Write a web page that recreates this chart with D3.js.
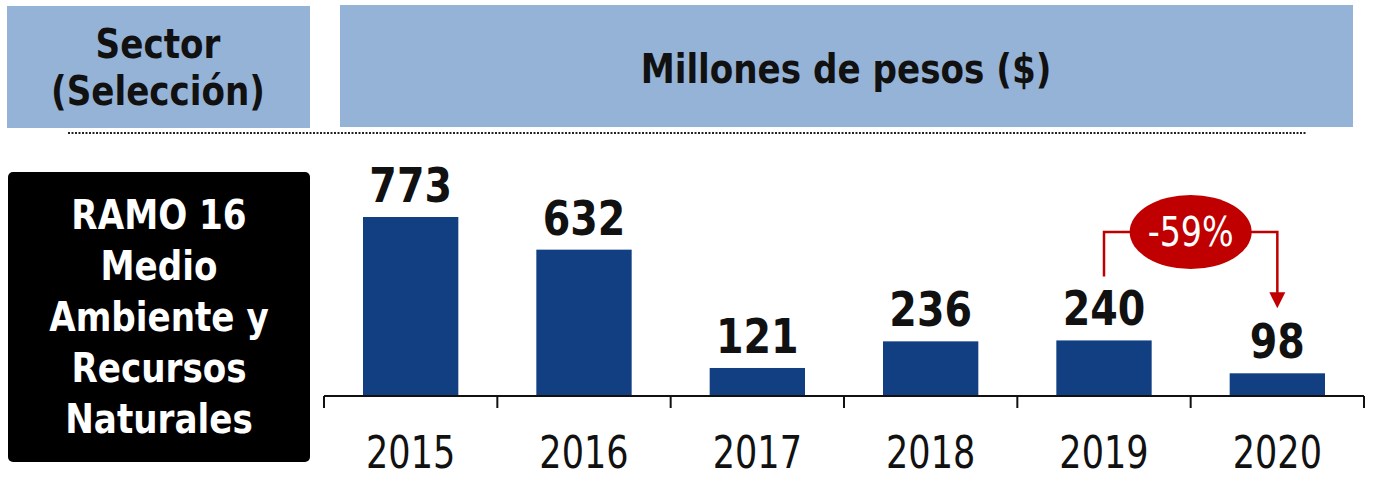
<!DOCTYPE html>
<html>
<head>
<meta charset="utf-8">
<script src="https://cdn.jsdelivr.net/npm/d3@7"></script>
<style>
  body { margin: 0; background: #fff; }
  svg text { font-family: "DejaVu Sans Condensed", "DejaVu Sans", sans-serif; font-stretch: condensed; }
</style>
</head>
<body>
<div id="chart"></div>
<script>
// data
var years = ['2015', '2016', '2017', '2018', '2019', '2020'];
var values = [773, 632, 121, 236, 240, 98];
var sectorLines = ['RAMO 16', 'Medio', 'Ambiente y', 'Recursos', 'Naturales'];
var headerLeft = ['Sector', '(Selección)'];
var headerRight = 'Millones de pesos ($)';
var changeLabel = '-59%';

var width = 1375, height = 485;
var barColor = '#123f82';
var headColor = '#95b3d7';
var red = '#c00000';

var svg = d3.select('#chart').append('svg')
  .attr('width', width)
  .attr('height', height);

var x = d3.scaleBand()
  .domain(years)
  .range([324, 1364])
  .paddingInner(0.45)
  .paddingOuter(0.225);

var y = d3.scaleLinear()
  .domain([0, d3.max(values)])
  .range([396, 217]);

var data = years.map((d, i) => ({year: d, value: values[i]}));

// text in the original is a bit taller than the condensed font, stretch it vertically
function tall(k) {
  return function (sel) {
    sel.attr('transform', function () {
      var t = d3.select(this);
      var px = +t.attr('x'), py = +t.attr('y');
      return 'translate(' + px + ',' + py + ') scale(1,' + k + ') translate(' + (-px) + ',' + (-py) + ')';
    });
  };
}

// header boxes
svg.append('rect')
  .attr('x', 7).attr('y', 6).attr('width', 303).attr('height', 122)
  .attr('fill', headColor);
svg.append('rect')
  .attr('x', 340).attr('y', 5).attr('width', 1013).attr('height', 122)
  .attr('fill', headColor);

svg.selectAll('.hl')
  .data(headerLeft)
  .enter()
  .append('text')
  .attr('class', 'hl')
  .attr('x', 158)
  .attr('y', (d, i) => 58 + i * 47)
  .attr('text-anchor', 'middle')
  .attr('font-size', 38).attr('font-weight', 'bold').attr('fill', '#111')
  .text(d => d)
  .call(tall(1.06));

svg.append('text')
  .attr('x', 846).attr('y', 83)
  .attr('text-anchor', 'middle')
  .attr('font-size', 38).attr('font-weight', 'bold').attr('fill', '#111')
  .text(headerRight)
  .call(tall(1.06));

// dotted separator
svg.append('line')
  .attr('x1', 68).attr('x2', 1307)
  .attr('y1', 133).attr('y2', 133)
  .attr('stroke', '#222')
  .attr('stroke-width', 2)
  .attr('stroke-dasharray', '2,1.5');

// black sector box
svg.append('rect')
  .attr('x', 8).attr('y', 172).attr('width', 302).attr('height', 290)
  .attr('rx', 5)
  .attr('fill', '#000');

svg.selectAll('.sl')
  .data(sectorLines)
  .enter()
  .append('text')
  .attr('class', 'sl')
  .attr('x', 159)
  .attr('y', (d, i) => 229 + i * 51)
  .attr('text-anchor', 'middle')
  .attr('font-size', 38).attr('font-weight', 'bold').attr('fill', '#fff')
  .text(d => d)
  .call(tall(1.06));

// bars
svg.selectAll('.bar')
  .data(data)
  .enter()
  .append('rect')
  .attr('class', 'bar')
  .attr('x', d => x(d.year))
  .attr('width', x.bandwidth())
  .attr('y', d => y(d.value))
  .attr('height', d => y(0) - y(d.value))
  .attr('fill', barColor);

// value labels
svg.selectAll('.val')
  .data(data)
  .enter()
  .append('text')
  .attr('class', 'val')
  .attr('x', d => x(d.year) + x.bandwidth() / 2)
  .attr('y', d => y(d.value) - 15)
  .attr('text-anchor', 'middle')
  .attr('font-size', 44).attr('font-weight', 'bold').attr('fill', '#111')
  .text(d => d.value)
  .call(tall(1.1));

// axis with ticks on band boundaries
var x0 = x.range()[0];
var bounds = d3.range(years.length + 1).map(i => x0 + i * x.step());
var axis = svg.append('g').attr('stroke', '#111').attr('stroke-width', 2);
axis.append('line')
  .attr('x1', x.range()[0]).attr('x2', x.range()[1])
  .attr('y1', y(0)).attr('y2', y(0));
axis.selectAll('.tick')
  .data(bounds)
  .enter()
  .append('line')
  .attr('x1', d => d).attr('x2', d => d)
  .attr('y1', y(0)).attr('y2', y(0) + 12);

svg.selectAll('.year')
  .data(years)
  .enter()
  .append('text')
  .attr('class', 'year')
  .attr('x', d => x(d) + x.bandwidth() / 2)
  .attr('y', 468)
  .attr('text-anchor', 'middle')
  .attr('font-size', 39).attr('fill', '#111')
  .text(d => d)
  .call(tall(1.12));

// change annotation between 2019 and 2020
var a = data[4], b = data[5];
var ax = x(a.year) + x.bandwidth() / 2;
var bx = x(b.year) + x.bandwidth() / 2;
var cx = (ax + bx) / 2, cy = 232;
var ann = svg.append('g');
ann.append('path')
  .attr('d', 'M' + ax + ',' + (y(a.value) - 64) + 'V' + cy + 'H' + bx + 'V' + (y(b.value) - 80))
  .attr('fill', 'none')
  .attr('stroke', red)
  .attr('stroke-width', 2.5);
ann.append('path')
  .attr('d', 'M' + (bx - 8) + ',' + (y(b.value) - 81) + 'L' + (bx + 8) + ',' + (y(b.value) - 81) + 'L' + bx + ',' + (y(b.value) - 65) + 'Z')
  .attr('fill', red);
ann.append('ellipse')
  .attr('cx', cx).attr('cy', cy)
  .attr('rx', 61).attr('ry', 37)
  .attr('fill', red);
ann.append('text')
  .attr('x', cx).attr('y', cy + 14)
  .attr('text-anchor', 'middle')
  .attr('font-size', 37).attr('fill', '#fff')
  .text(changeLabel)
  .call(tall(1.1));
</script>
</body>
</html>
